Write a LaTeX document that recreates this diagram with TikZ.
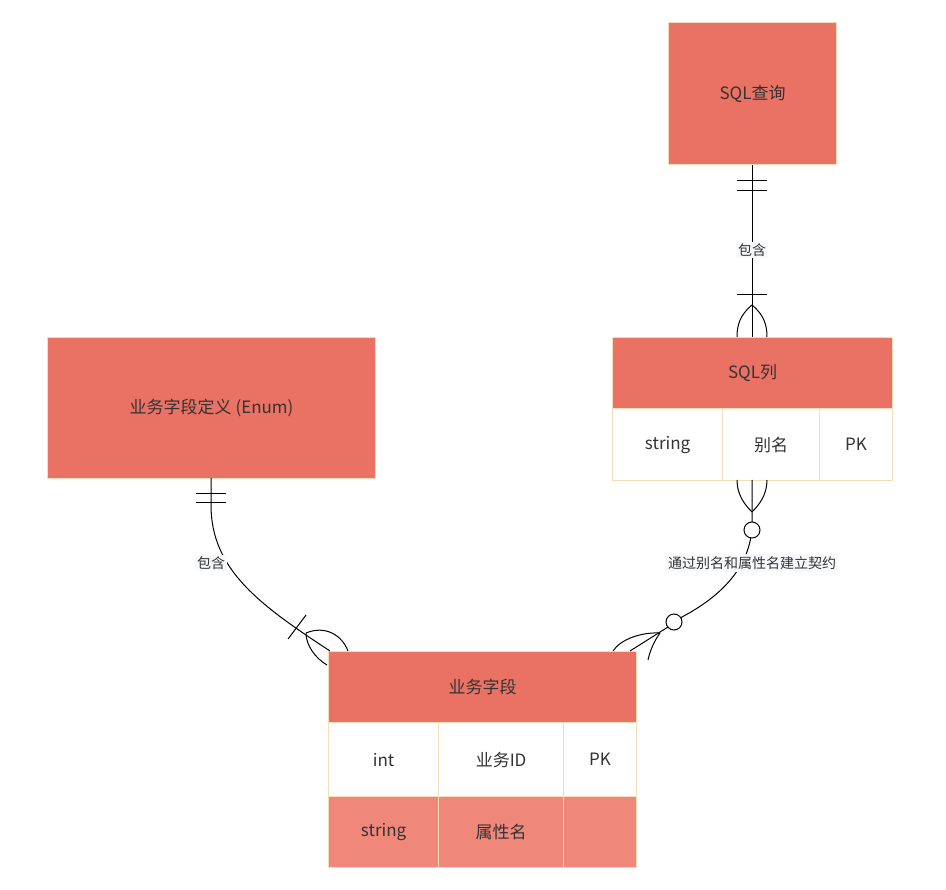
\documentclass[tikz,border=0pt]{standalone}
\usepackage{fontspec}
\setmainfont{Noto Sans CJK SC}
\begin{document}
\begin{tikzpicture}[x=1pt,y=-1pt,
  ent/.style={draw=bordc,line width=1.2pt,fill=hdr,text=txt,font=\fontsize{17}{20}\selectfont,inner sep=0pt,anchor=north west},
  cell/.style={ent,fill=white},
  cell2/.style={ent,fill=row2},
  lbl/.style={fill=lblbg,text=txt,font=\fontsize{14}{16}\selectfont,inner sep=2pt},
  rel/.style={draw=black,line width=1pt}]
\definecolor{hdr}{HTML}{EA7264}
\definecolor{row2}{HTML}{F0877B}
\definecolor{bordc}{HTML}{F3DEB9}
\definecolor{txt}{HTML}{333333}
\definecolor{lblbg}{HTML}{F8F9FC}
\useasboundingbox (0,0) rectangle (946,890);
% entities
\node[ent,minimum width=168pt,minimum height=142pt] (q) at (668,22) {SQL查询};
\node[ent,minimum width=328pt,minimum height=141pt] (e) at (47,337) {业务字段定义 (Enum)};
\node[ent,minimum width=280pt,minimum height=71pt] (c) at (612,337) {SQL列};
\node[cell,minimum width=110pt,minimum height=72pt] (c1) at (612,408) {string};
\node[cell,minimum width=97pt,minimum height=72pt] (c2) at (722,408) {别名};
\node[cell,minimum width=73pt,minimum height=72pt] (c3) at (819,408) {PK};
\node[ent,minimum width=308pt,minimum height=71pt] (f) at (328,651) {业务字段};
\node[cell,minimum width=110pt,minimum height=74pt] (f1) at (328,722) {int};
\node[cell,minimum width=125pt,minimum height=74pt] (f2) at (438,722) {业务ID};
\node[cell,minimum width=73pt,minimum height=74pt] (f3) at (563,722) {PK};
\node[cell2,minimum width=110pt,minimum height=71pt] (g1) at (328,796) {string};
\node[cell2,minimum width=125pt,minimum height=71pt] (g2) at (438,796) {属性名};
\node[cell2,minimum width=73pt,minimum height=71pt] (g3) at (563,796) {};
% connector 1: SQL查询 - SQL列
\draw[rel] (q.south) -- (c.north);
\draw[rel] (737,181) -- (767,181) (737,191) -- (767,191) (737,295) -- (767,295);
\draw[rel] (752,305) .. controls (740,315) and (737,325) .. (737,337);
\draw[rel] (752,305) .. controls (764,315) and (767,325) .. (767,337);
\node[lbl] (l1) at (752,250) {包含};
% connector 2: Enum - 业务字段
\coordinate (ea) at (211,478);
\coordinate (fa) at (330,651);
\draw[rel] (ea) -- (211,505) .. controls (211,570) and (260,605) .. (fa);
\draw[rel] (196,494) -- (226,494) (196,503) -- (226,503);
\draw[rel] (288,639) -- (306,615);
\draw[rel] (306,633) .. controls (306,645) and (315,658) .. (327,665);
\draw[rel] (306,633) .. controls (325,625) and (342,635) .. (348,651);
\node[lbl] (l2) at (211,563) {包含};
% connector 3: SQL列 - 业务字段
\coordinate (cb) at (752,480);
\coordinate (fb) at (630,651);
\draw[rel] (cb) -- (752,523) .. controls (752,570) and (715,600) .. (680,618);
\draw[rel] (668,627) -- (fb);
\draw[rel] (737,480) .. controls (737,495) and (745,505) .. (752,512);
\draw[rel] (767,480) .. controls (767,495) and (759,505) .. (752,512);
\draw[rel,fill=white] (752,530) circle (8);
\draw[rel,fill=white] (674,622) circle (8);
\draw[rel] (660,633) .. controls (640,632) and (620,640) .. (613,651);
\draw[rel] (660,633) .. controls (655,640) and (650,650) .. (648,660);
\node[lbl] (l3) at (752,563) {通过别名和属性名建立契约};
\end{tikzpicture}
\end{document}
